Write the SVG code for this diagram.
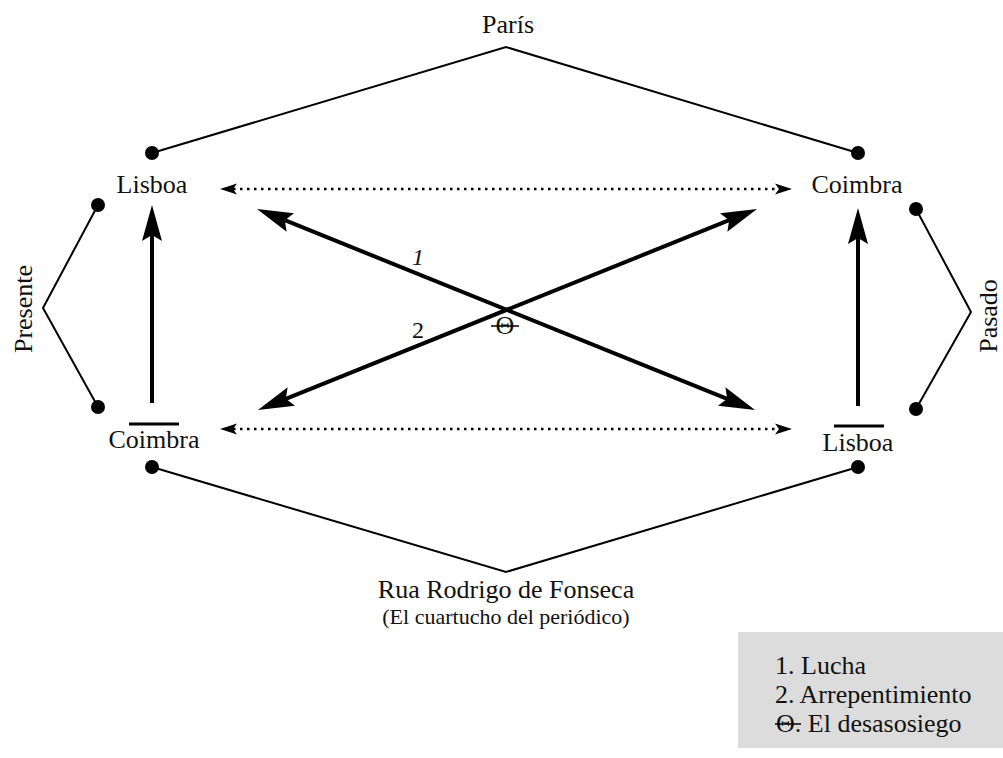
<svg xmlns="http://www.w3.org/2000/svg" width="1003" height="758" viewBox="0 0 1003 758">
  <style>
    text { font-family: "Liberation Serif", "Times New Roman", serif; fill: #111; }
    .lbl { font-size: 26px; text-anchor: middle; }
    .sub { font-size: 22px; text-anchor: middle; }
    .leg { font-size: 26px; }
    .thin { fill: none; stroke: #000; stroke-width: 2; stroke-linejoin: miter; }
    .thick { fill: none; stroke: #000; stroke-width: 4; }
    .dotted { fill: none; stroke: #000; stroke-width: 2.5; stroke-dasharray: 2.5 4.5; }
    .dot { fill: #000; }
    .bar { stroke: #000; stroke-width: 3; }
  </style>
  <defs>
    <marker id="big" markerUnits="userSpaceOnUse" viewBox="0 -11 38 22" refX="6" refY="0" markerWidth="38" markerHeight="22" orient="auto-start-reverse">
      <path d="M36,0 L0,-10 L6,0 L0,10 Z" fill="#000"/>
    </marker>
    <marker id="small" markerUnits="userSpaceOnUse" viewBox="0 -6 18 12" refX="4" refY="0" markerWidth="18" markerHeight="12" orient="auto-start-reverse">
      <path d="M17,0 L0,-5.5 L4,0 L0,5.5 Z" fill="#000"/>
    </marker>
  </defs>
  <rect width="1003" height="758" fill="#fff"/>

  <g id="connectors">
    <polyline class="thin" points="152,153 506,47 858,153"/>
    <polyline class="thin" points="98,205 43,308 98,407"/>
    <polyline class="thin" points="916,209 971,312 916,409"/>
    <polyline class="thin" points="152,467 506,572 858,467"/>
    <circle class="dot" cx="152" cy="153" r="7"/>
    <circle class="dot" cx="858" cy="153" r="7"/>
    <circle class="dot" cx="98" cy="205" r="7"/>
    <circle class="dot" cx="98" cy="407" r="7"/>
    <circle class="dot" cx="916" cy="209" r="7"/>
    <circle class="dot" cx="916" cy="409" r="7"/>
    <circle class="dot" cx="152" cy="467" r="7"/>
    <circle class="dot" cx="858" cy="467" r="7"/>
    <line class="dotted" x1="233" y1="189" x2="779" y2="189" marker-start="url(#small)" marker-end="url(#small)"/>
    <line class="dotted" x1="233" y1="429" x2="779" y2="429" marker-start="url(#small)" marker-end="url(#small)"/>
    <line class="thick" x1="152" y1="403" x2="152" y2="235" marker-end="url(#big)"/>
    <line class="thick" x1="858" y1="406" x2="858" y2="238" marker-end="url(#big)"/>
    <line class="thick" x1="284.8" y1="220.2" x2="727.2" y2="398.8" marker-start="url(#big)" marker-end="url(#big)"/>
    <line class="thick" x1="285.8" y1="398.8" x2="729.2" y2="220.2" marker-start="url(#big)" marker-end="url(#big)"/>
    <line class="bar" x1="129" y1="424" x2="179" y2="424"/>
    <line class="bar" x1="834" y1="426" x2="884" y2="426"/>
  </g>

  <g id="node-paris"><text class="lbl" x="508" y="33">París</text></g>
  <g id="node-lisboa-tl"><text class="lbl" x="152" y="193">Lisboa</text></g>
  <g id="node-coimbra-tr"><text class="lbl" x="857" y="193">Coimbra</text></g>
  <g id="node-coimbra-bl"><text class="lbl" x="154" y="448">Coimbra</text></g>
  <g id="node-lisboa-br"><text class="lbl" x="858" y="451">Lisboa</text></g>
  <g id="node-presente"><text class="lbl" transform="translate(32,309) rotate(-90)">Presente</text></g>
  <g id="node-pasado"><text class="lbl" transform="translate(997,316) rotate(-90)">Pasado</text></g>
  <g id="node-rua">
    <text class="lbl" x="506" y="598">Rua Rodrigo de Fonseca</text>
    <text class="sub" x="506" y="624">(El cuartucho del periódico)</text>
  </g>
  <g id="labels-cross">
    <text x="418" y="265" font-size="24" font-style="italic" text-anchor="middle">1</text>
    <text x="418" y="338" font-size="24" text-anchor="middle">2</text>
    <text x="505" y="334" font-size="26" text-anchor="middle">Θ</text>
    <line x1="491" y1="326" x2="519" y2="326" stroke="#000" stroke-width="1.5"/>
  </g>

  <g id="legend">
    <rect x="738" y="632" width="265" height="116" fill="#dcdcdc"/>
    <text class="leg" x="775" y="674">1. Lucha</text>
    <text class="leg" x="775" y="703">2. Arrepentimiento</text>
    <text class="leg" x="776" y="732">Θ. El desasosiego</text>
    <line x1="775" y1="724" x2="801" y2="724" stroke="#000" stroke-width="1.5"/>
  </g>
</svg>
